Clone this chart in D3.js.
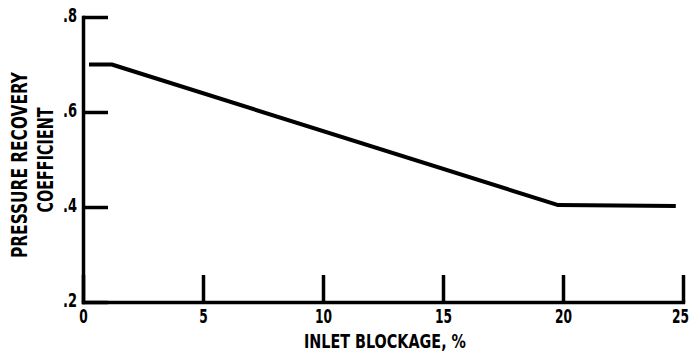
<!DOCTYPE html>
<html>
<head>
<meta charset="utf-8">
<script src="https://cdn.jsdelivr.net/npm/d3@7"></script>
<style>
  body { margin: 0; background: #fff; }
  text { font-family: "Liberation Sans Narrow", "DejaVu Sans Condensed", sans-serif; font-weight: bold; fill: #000; }
</style>
</head>
<body>
<div id="chart"></div>
<script>
// Curve
var blockage = [0.25, 1.2, 19.8, 24.7];
var recovery = [0.70, 0.70, 0.404, 0.402];

// Tick values and labels
var xTicks = [0, 5, 10, 15, 20, 25];
var yTicks = [0.2, 0.4, 0.6, 0.8];
var yTickLabels = [".2", ".4", ".6", ".8"];

var width = 693, height = 354;

var svg = d3.select("#chart")
    .append("svg")
    .attr("width", width)
    .attr("height", height);

var x = d3.scaleLinear().domain([0, 25]).range([83, 683]);
var y = d3.scaleLinear().domain([0.2, 0.8]).range([302, 17]);

// x axis, ticks point up into the plot
var xAxis = svg.append("g")
    .attr("transform", "translate(0," + y(0.2) + ")")
    .call(d3.axisBottom(x)
        .tickValues(xTicks)
        .tickSize(-27)
        .tickSizeOuter(0)
        .tickPadding(5)
        .tickFormat(function(d) { return d; }));

// y axis, ticks point right into the plot
var yAxis = svg.append("g")
    .attr("transform", "translate(" + x(0) + ",0)")
    .call(d3.axisLeft(y)
        .tickValues(yTicks)
        .tickSize(-25)
        .tickSizeOuter(0)
        .tickPadding(6)
        .tickFormat(function(d, i) { return yTickLabels[i]; }));

svg.selectAll(".domain, .tick line")
    .attr("stroke", "#000")
    .attr("stroke-width", 3.5);
svg.selectAll(".domain").attr("stroke-linecap", "square");

// narrow the digits, the scan uses a tall condensed face
xAxis.selectAll(".tick text")
    .attr("dy", "0.85em")
    .attr("x", function(d) { return d == 25 ? -3 : 0; }) // keep last label inside the frame
    .attr("textLength", function(d) { return String(d).length * 8.5; })
    .attr("lengthAdjust", "spacingAndGlyphs")
    .style("font-size", "19px");

yAxis.selectAll(".tick text")
    .attr("dy", "0.25em")
    .attr("textLength", 14)
    .attr("lengthAdjust", "spacingAndGlyphs")
    .style("font-size", "19px");

// the data line
var line = d3.line()
    .x(function(d, i) { return x(blockage[i]); })
    .y(function(d) { return y(d); });

svg.append("path")
    .datum(recovery)
    .attr("d", line)
    .attr("fill", "none")
    .attr("stroke", "#000")
    .attr("stroke-width", 4)
    .attr("stroke-linejoin", "round");

// axis titles
svg.append("text")
    .attr("x", 385)
    .attr("y", 348)
    .attr("text-anchor", "middle")
    .attr("textLength", 162)
    .attr("lengthAdjust", "spacingAndGlyphs")
    .style("font-size", "20px")
    .text("INLET BLOCKAGE, %");

svg.append("text")
    .attr("transform", "translate(27,165) rotate(-90)")
    .attr("text-anchor", "middle")
    .attr("textLength", 186)
    .attr("lengthAdjust", "spacingAndGlyphs")
    .style("font-size", "21px")
    .text("PRESSURE RECOVERY");

svg.append("text")
    .attr("transform", "translate(53,160) rotate(-90)")
    .attr("text-anchor", "middle")
    .attr("textLength", 105)
    .attr("lengthAdjust", "spacingAndGlyphs")
    .style("font-size", "21px")
    .text("COEFFICIENT");
</script>
</body>
</html>
